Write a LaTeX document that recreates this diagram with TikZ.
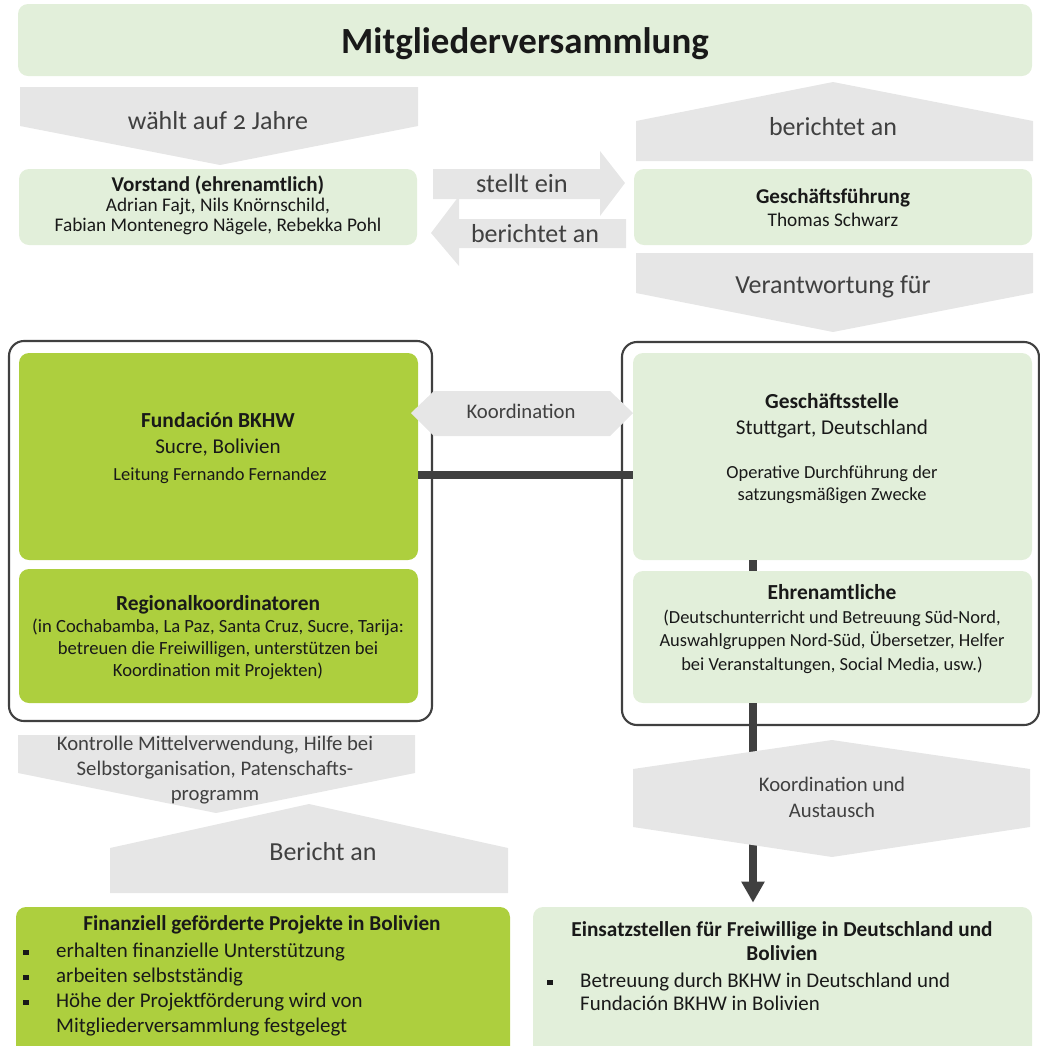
\documentclass[tikz,border=0pt]{standalone}
\usepackage{fontspec}
\setmainfont{Carlito}[Numbers=OldStyle]
\usetikzlibrary{calc,arrows.meta,fit}
\definecolor{hellgruen}{RGB}{226,239,218}
\definecolor{gruen}{RGB}{173,207,62}
\definecolor{pfeilgrau}{RGB}{230,230,230}
\definecolor{dunkel}{RGB}{64,64,64}
\def\fs#1#2{\fontsize{#1}{#2}\selectfont}
\def\bul{\makebox[18.7pt][l]{\rule[0.3ex]{3pt}{3pt}}}
\tikzset{
  box/.style={rounded corners=0.2cm, inner sep=0pt, draw=none},
  hellbox/.style={box, fill=hellgruen},
  gruenbox/.style={box, fill=gruen},
  rahmen/.style={draw=dunkel, line width=1.2pt, rounded corners=0.3cm},
  pfeil/.style={fill=pfeilgrau},
  pfeiltext/.style={text=dunkel, align=center, inner sep=0pt},
  boxtext/.style={text=black!90, align=center, inner sep=0pt},
  balken/.style={draw=dunkel, line width=4pt}
}

\begin{document}
\begin{tikzpicture}[x=0.02cm, y=-0.02cm]
		%%%%% START %%%%%
		\clip (0, 0) rectangle (1040, 1046);
		
		% Mitgliederversammlung
		\node[hellbox, fit={(18, 4) (1032, 76)}] (mv) {};
		\node[boxtext, font=\fs{21}{24}\bfseries] (mvtxt) at (525, 44) {Mitgliederversammlung};
		
		% obere Pfeile
		\fill[pfeil] (20, 87) -- (418, 87) -- (418, 126) -- (220, 165) -- (20, 126) -- cycle;
		\node[pfeiltext, font=\fs{14.8}{17}] (waehlt) at (218, 121) {wählt auf 2 Jahre};
		\fill[pfeil] (636, 161) -- (636, 121) -- (833, 82) -- (1033, 121) -- (1033, 161) -- cycle;
		\node[pfeiltext, font=\fs{14.8}{17}] (berichtet1) at (833, 127) {berichtet an};
		
		% Vorstand und Geschaeftsfuehrung
		\node[hellbox, fit={(19, 169) (417, 245)}] (vorstand) {};
		\node[boxtext, font=\fs{11}{11.4}] (vorstandtxt) at (218, 205) {{\fs{12}{11.4}\bfseries Vorstand (ehrenamtlich)}\\Adrian Fajt, Nils Knörnschild,\\Fabian Montenegro Nägele, Rebekka Pohl};
		\node[hellbox, fit={(634, 169) (1032, 245)}] (gf) {};
		\node[boxtext, font=\fs{11}{13}] (gftxt) at (833, 208) {{\fs{12}{13}\bfseries Geschäftsführung}\\Thomas Schwarz};
		
		\fill[pfeil] (433, 169) -- (600, 169) -- (600, 151) -- (625, 183) -- (600, 216) -- (600, 199) -- (433, 199) -- cycle;
		\node[pfeiltext, font=\fs{15}{17}] (stellt) at (522, 183) {stellt ein};
		\fill[pfeil] (626, 219) -- (459, 219) -- (459, 196) -- (431, 233) -- (459, 266) -- (459, 248) -- (626, 248) -- cycle;
		\node[pfeiltext, font=\fs{14.8}{17}] (berichtet2) at (535, 234) {berichtet an};
		
		\fill[pfeil] (636, 253) -- (1033, 253) -- (1033, 293) -- (833, 332) -- (636, 293) -- cycle;
		\node[pfeiltext, font=\fs{14.8}{17}] (verantwortung) at (833, 287) {Verantwortung für};
		
		% Rahmen
		\draw[rahmen] (9, 341) rectangle (432, 721);
		\draw[rahmen] (622, 342) rectangle (1039, 725);
		
		% Bolivien
		\node[gruenbox, fit={(19, 353) (418, 560)}] (fund) {};
		\node[boxtext, font=\fs{12}{15}] (fundtxt) at (218, 448) {{\fs{12.2}{15}\bfseries Fundación BKHW}\\Sucre, Bolivien\\{\fs{10.5}{15} Leitung Fernando Fernandez}};
		\node[gruenbox, fit={(19, 569) (418, 703)}] (reg) {};
		\node[boxtext, font=\fs{10.6}{12.5}] (regtxt) at (218, 638) {{\fs{12.2}{12.5}\bfseries Regionalkoordinatoren}\\(in Cochabamba, La Paz, Santa Cruz, Sucre, Tarija:\\betreuen die Freiwilligen, unterstützen bei\\Koordination mit Projekten)};
		
		% Deutschland
		\node[hellbox, fit={(633, 353) (1032, 560)}] (gs) {};
		\node[boxtext, font=\fs{12}{14.7}] (gstxt) at (832, 416) {{\fs{12.2}{14.7}\bfseries Geschäftsstelle}\\Stuttgart, Deutschland};
		\node[boxtext, font=\fs{10.5}{12.5}] (gszweck) at (832, 485) {Operative Durchführung der\\satzungsmäßigen Zwecke};
		\node[hellbox, fit={(633, 571) (1032, 703)}] (ehr) {};
		\node[boxtext, font=\fs{10.5}{13.5}] (ehrtxt) at (832, 629) {{\fs{12.2}{13.5}\bfseries Ehrenamtliche}\\(Deutschunterricht und Betreuung Süd-Nord,\\Auswahlgruppen Nord-Süd, Übersetzer, Helfer\\bei Veranstaltungen, Social Media, usw.)};
		
		% Koordination
		\fill[pfeil] (411, 413) -- (434, 391) -- (610, 391) -- (633, 413) -- (610, 436) -- (434, 436) -- cycle;
		\node[pfeiltext, font=\fs{11.8}{13}] (koord) at (521, 411) {Koordination};
		
		\coordinate (hl) at (0, 475);
		\coordinate (vl) at (753, 0);
		\draw[balken] (fund.east |- hl) -- (gs.west |- hl);
		\draw[balken] (gs.south -| vl) -- (ehr.north -| vl);
		
		% Einsatzstellen
		\node[hellbox, fit={(533, 907) (1032, 1056)}] (einsatz) {};
		\draw[balken, -{Triangle[width=0.44cm, length=0.42cm]}, shorten >=0.08cm] (ehr.south -| vl) -- (einsatz.north -| vl);
		\fill[pfeil] (633, 769) -- (832, 740) -- (1030, 769) -- (1030, 827) -- (832, 857) -- (633, 827) -- cycle;
		\node[pfeiltext, font=\fs{11.8}{14.7}] (austausch) at (832, 797) {Koordination und\\Austausch};
		\node[boxtext, font=\fs{12.1}{14}\bfseries] (einsatztxt) at (782, 941) {Einsatzstellen für Freiwillige in Deutschland und\\Bolivien};
		\node[boxtext, align=left, font=\fs{11.9}{13}, anchor=north west] (einsatzlist) at (547, 973) {\bul Betreuung durch BKHW in Deutschland und\\\hspace*{18.7pt}Fundación BKHW in Bolivien};
		
		% Projekte
		\fill[pfeil] (18, 735) -- (415, 735) -- (415, 773) -- (216, 813) -- (18, 773) -- cycle;
		\fill[pfeil] (110, 893) -- (110, 848) -- (309, 804) -- (508, 848) -- (508, 893) -- cycle;
		\node[pfeiltext, font=\fs{11.8}{14.2}] (kontrolle) at (215, 770) {Kontrolle Mittelverwendung, Hilfe bei\\Selbstorganisation, Patenschafts-\\programm};
		\node[pfeiltext, font=\fs{14.8}{17}] (bericht) at (323, 852) {Bericht an};
		
		\node[gruenbox, fit={(16, 907) (510, 1056)}] (fin) {};
		\node[boxtext, font=\fs{12.1}{13}\bfseries] (fintxt) at (262, 925) {Finanziell geförderte Projekte in Bolivien};
		\node[boxtext, align=left, font=\fs{11.9}{14.2}, anchor=north west] (finlist) at (23, 943) {\bul erhalten finanzielle Unterstützung\\\bul arbeiten selbstständig\\\bul Höhe der Projektförderung wird von\\\hspace*{18.7pt}Mitgliederversammlung festgelegt};
		%%%%% END %%%%%
	\end{tikzpicture}
\end{document}
